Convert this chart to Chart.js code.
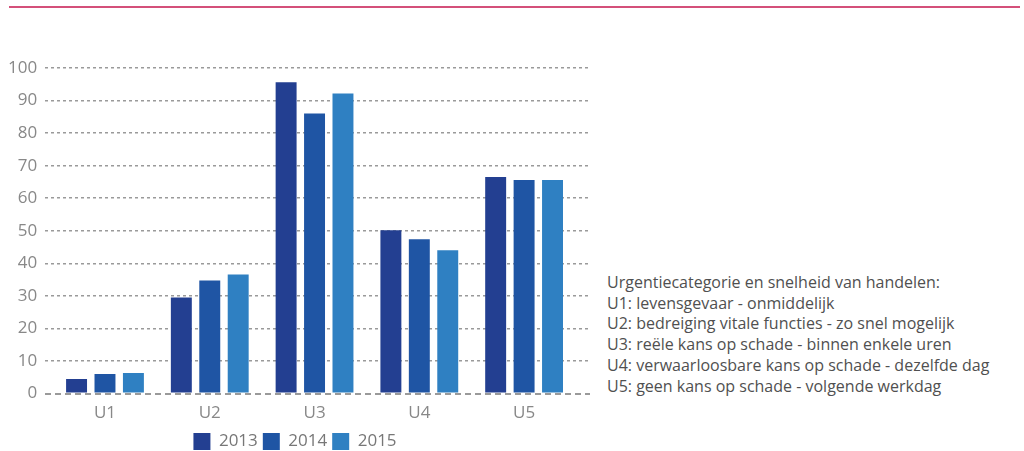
<!DOCTYPE html>
<html>
<head>
<meta charset="utf-8">
<script src="https://cdn.jsdelivr.net/npm/chart.js@4/dist/chart.umd.min.js"></script>
<style>
  body { margin: 0; background: #fff; width: 1024px; height: 451px; overflow: hidden; position: relative; font-family: 'Open Sans', sans-serif; }
  #topline { position: absolute; left: 9px; top: 6px; width: 1011px; height: 2px; background: #d4507a; }
  #wrap { position: absolute; left: 0; top: 0; width: 600px; height: 460px; }
  #note { position: absolute; left: 607px; top: 272px; font-size: 16px; line-height: 20.7px; color: #505050; white-space: nowrap; }
</style>
</head>
<body>
<div id="topline"></div>
<div id="wrap"><canvas id="chart" width="600" height="460"></canvas></div>
<div id="note">
  Urgentiecategorie en snelheid van handelen:<br>
  U1: levensgevaar - onmiddelijk<br>
  U2: bedreiging vitale functies - zo snel mogelijk<br>
  U3: reële kans op schade - binnen enkele uren<br>
  U4: verwaarloosbare kans op schade - dezelfde dag<br>
  U5: geen kans op schade - volgende werkdag
</div>
<script>
const categories = ['U1', 'U2', 'U3', 'U4', 'U5'];
const years = ['2013', '2014', '2015'];
const values2013 = [4.5, 29.5, 95.6, 50.2, 66.5];
const values2014 = [6, 34.7, 86, 47.4, 65.6];
const values2015 = [6.3, 36.6, 92.2, 44, 65.6];
const yTicks = [0, 10, 20, 30, 40, 50, 60, 70, 80, 90, 100];
const colors = ['#233f91', '#1f55a4', '#2f80c2'];

const series = [values2013, values2014, values2015];
const font = { family: "'Open Sans', sans-serif", size: 17 };

new Chart(document.getElementById('chart').getContext('2d'), {
    type: 'bar',
    data: {
        datasets: series.map((vals, i) => ({
            label: years[i],
            backgroundColor: colors[i],
            data: vals.map((v, j) => ({ x: j + 1, y: v })),
            categoryPercentage: 0.814,
            barPercentage: 0.737
        }))
    },
    options: {
        responsive: false,
        animation: false,
        layout: { padding: { top: 68, right: 10, left: 0, bottom: 0 } },
        plugins: {
            tooltip: { enabled: false },
            legend: {
                position: 'bottom',
                labels: {
                    font: font,
                    color: '#777',
                    boxWidth: 17,
                    boxHeight: 17,
                    padding: 5
                }
            }
        },
        scales: {
            x: {
                type: 'linear',
                offset: false,
                min: 0.429,
                max: 5.629,
                afterBuildTicks: scale => {
                    scale.ticks = categories.map((c, i) => ({ value: i + 1 }));
                },
                afterFit: scale => { scale.height += 4; },
                ticks: {
                    font: font,
                    color: '#888',
                    padding: 1,
                    callback: v => categories[v - 1]
                },
                grid: { display: false, offset: false },
                border: { display: false }
            },
            y: {
                min: 0,
                max: 100,
                afterBuildTicks: scale => {
                    scale.ticks = yTicks.map(v => ({ value: v }));
                },
                ticks: { font: font, color: '#888', padding: 8 },
                grid: {
                    drawTicks: false,
                    color: '#9a9a9a',
                    lineWidth: ctx => ctx.tick && ctx.tick.value === 0 ? 2 : 1.5
                },
                border: {
                    display: false,
                    dash: ctx => ctx.tick && ctx.tick.value === 0 ? [6, 4] : [3, 3]
                }
            }
        }
    }
});
</script>
</body>
</html>
